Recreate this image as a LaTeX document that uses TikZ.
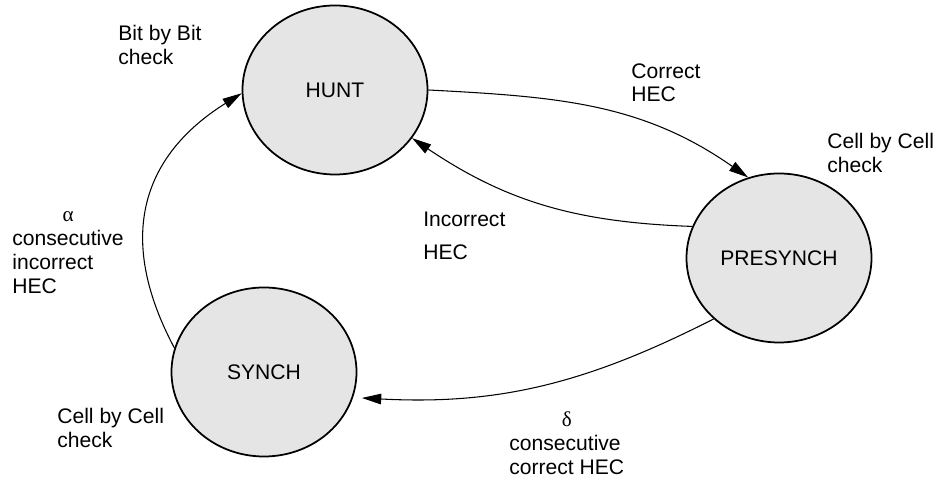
\documentclass[tikz,border=0pt]{standalone}
\usepackage{fontspec}
\setmainfont{Liberation Sans}
\newfontfamily\greekfont{Liberation Serif}
\usetikzlibrary{arrows.meta, positioning, shapes.geometric}

\begin{document}
\begin{tikzpicture}[
    font=\fontsize{12}{13.5}\selectfont,
    state/.style={ellipse, draw, line width=1pt, fill=black!10,
        minimum width=3.7cm, minimum height=3.38cm, inner sep=0pt},
    trans/.style={line width=0.6pt, -{Triangle[length=11pt,width=6pt]}},
    lbl/.style={align=left, inner sep=0pt, anchor=north west},
    greek/.style={inner sep=0pt, above=4.5pt of #1}
]
    \useasboundingbox (0,0) rectangle (18.74,9.54);

    % the three states
    \node[state] (hunt) at (6.70,7.74) {HUNT};
    \node[state] (presynch) at (15.58,4.38) {PRESYNCH};
    \node[state] (synch) at (5.28,2.10) {SYNCH};

    % transitions between them
    \draw[trans] (hunt.0) to[out=-3, in=145] (presynch.111);
    \draw[trans] (presynch.160) to[out=178, in=-34] (hunt.328);
    \draw[trans, shorten >=5pt] (presynch.223) to[out=207, in=-3] (synch.344);
    \draw[trans] (synch.165) to[out=118, in=212, out looseness=1.45, in looseness=0.9] (hunt.182);

    % check modes
    \node[lbl] (huntchk) at (2.36,9.04) {Bit by Bit\\check};
    \node[lbl] (prechk) at (16.54,6.88) {Cell by Cell\\check};
    \node[lbl] (synchchk) at (1.14,1.38) {Cell by Cell\\check};

    % transition conditions
    \node[lbl] (correct) at (12.62,8.28) {Correct\\HEC};
    \node[lbl] (incorrect) at (8.46,5.30) {Incorrect\\[5pt]HEC};
    \node[lbl] (alphacond) at (0.24,4.94) {consecutive\\incorrect\\HEC};
    \node[greek=alphacond] (alpha) {\greekfont α};
    \node[lbl] (deltacond) at (10.18,0.84) {consecutive\\correct HEC};
    \node[greek=deltacond] (delta) {\greekfont δ};
\end{tikzpicture}
\end{document}
